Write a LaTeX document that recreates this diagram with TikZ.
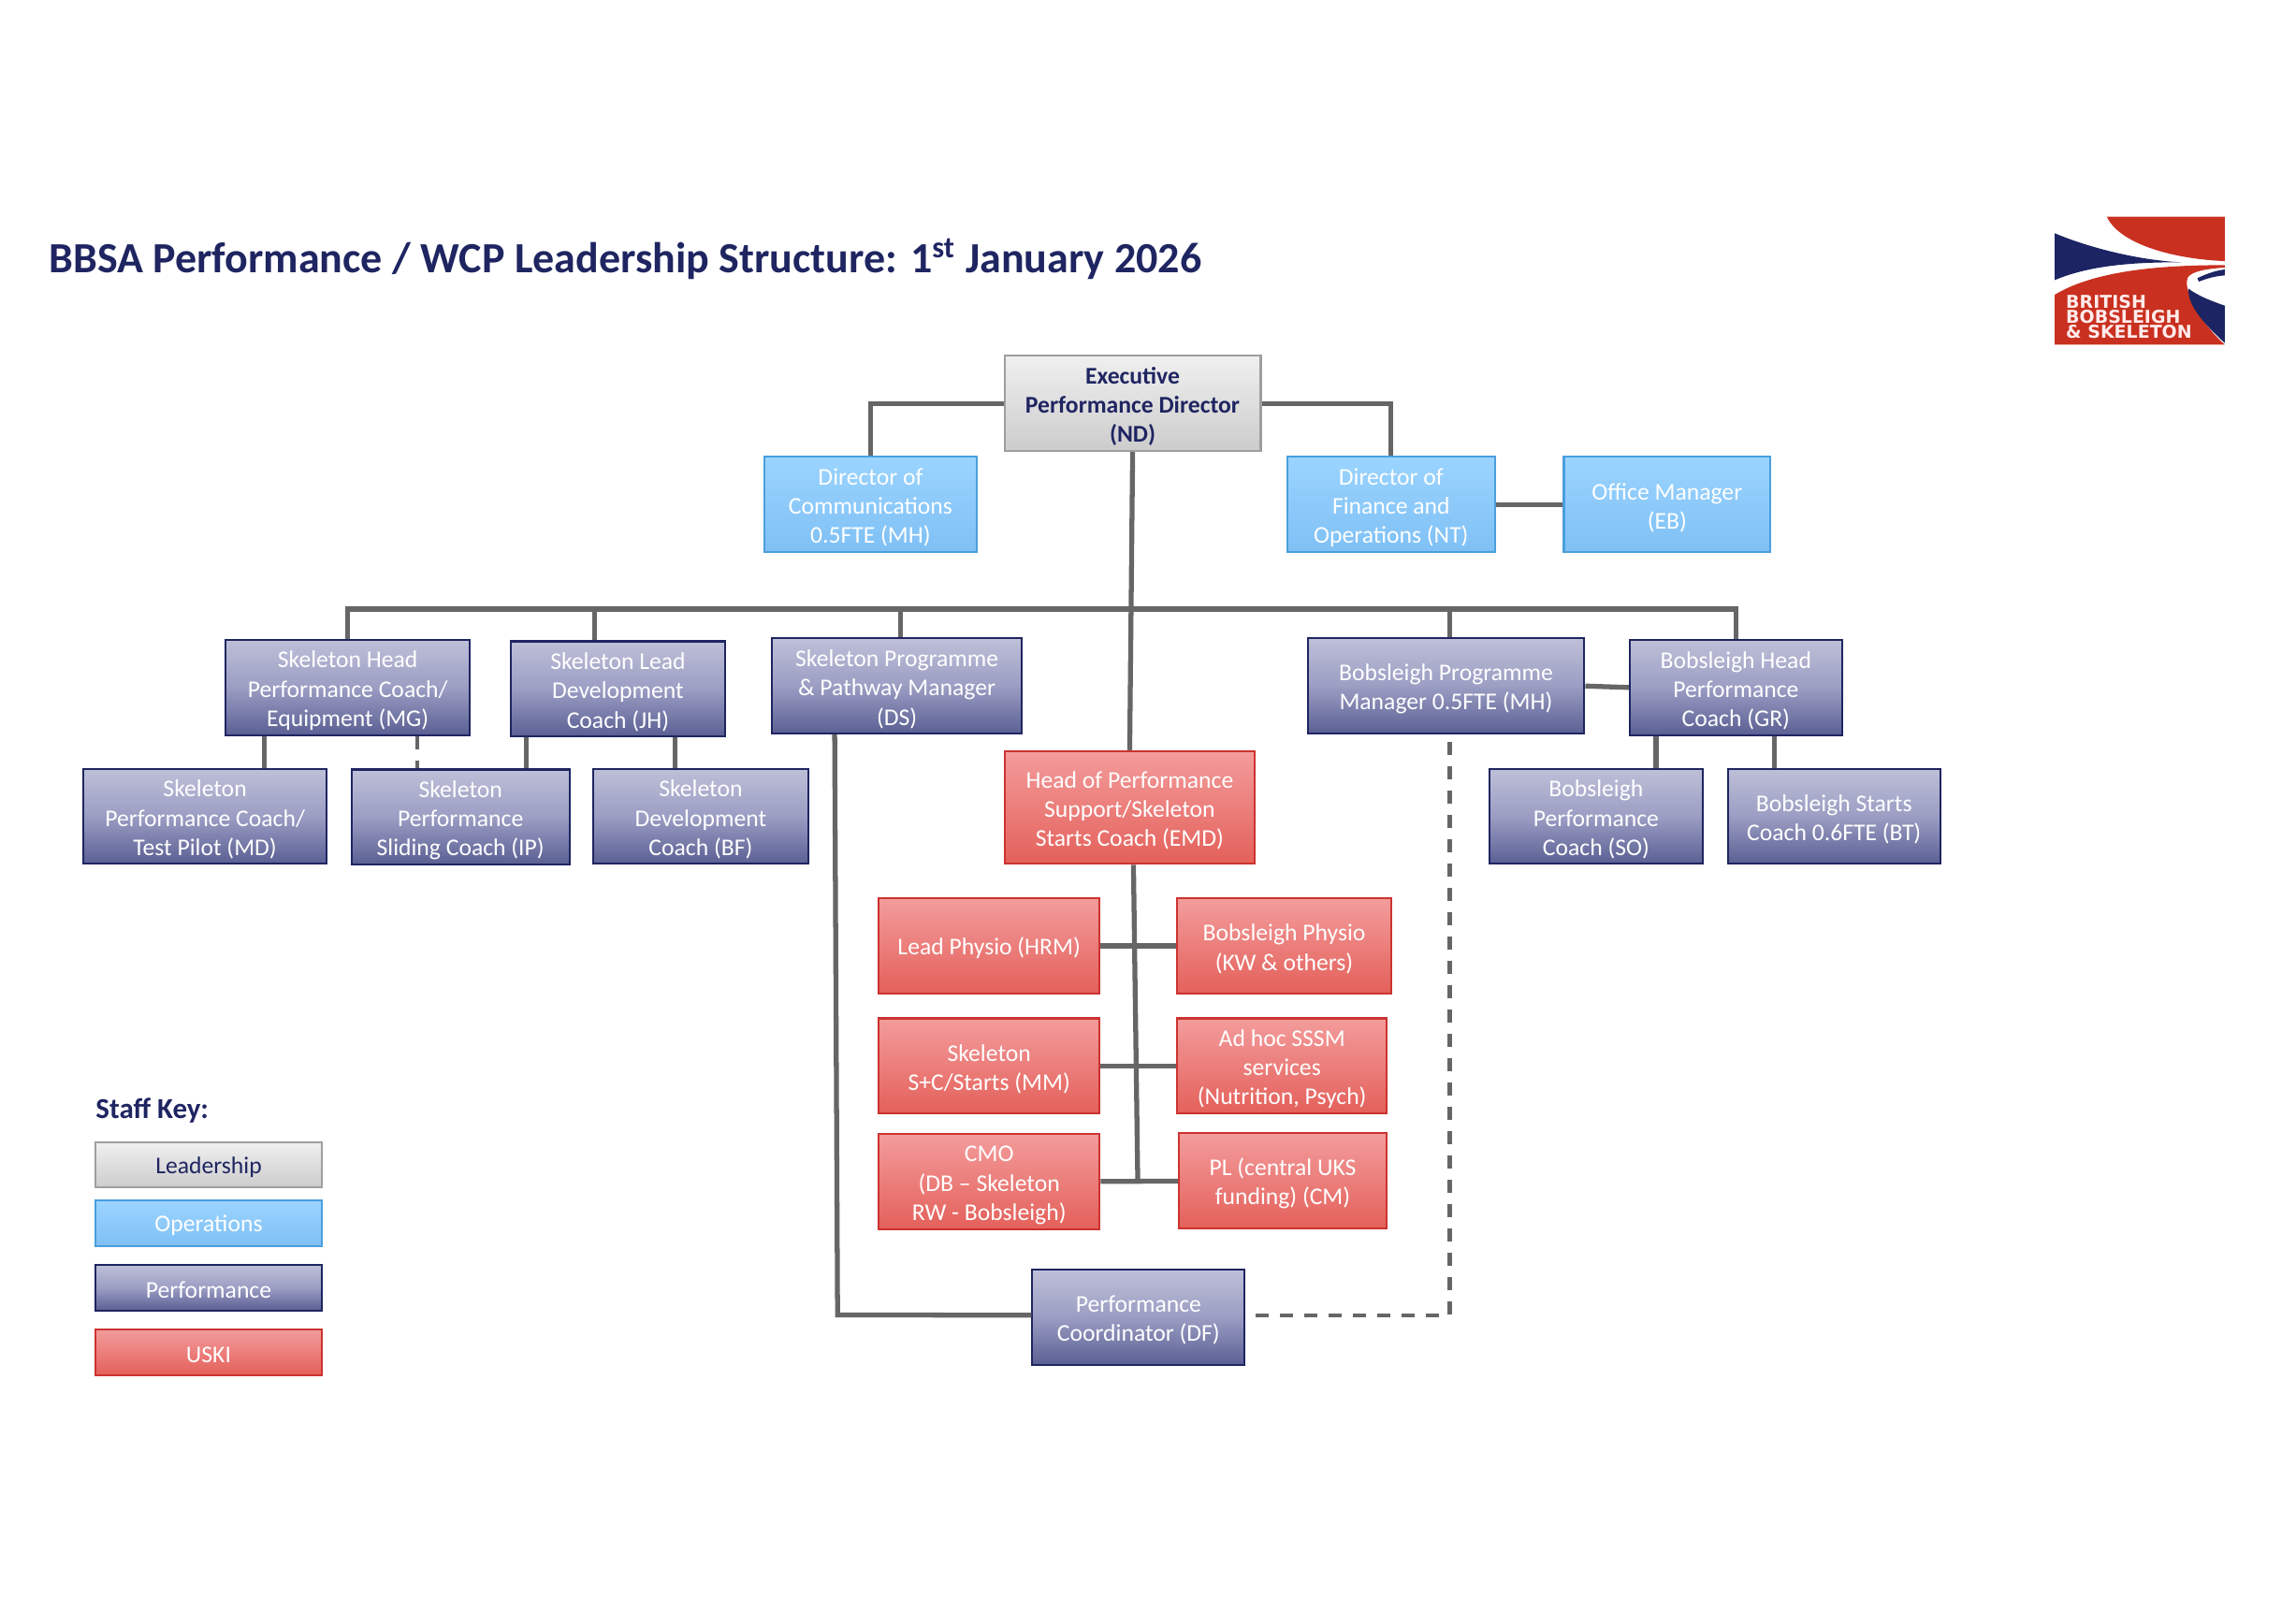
\documentclass[tikz,border=0pt]{standalone}
\usepackage{fontspec}
\setmainfont{Carlito}
\newfontfamily\logofont{DejaVu Sans}
\usetikzlibrary{positioning}

\definecolor{bbnavy}{HTML}{1F2561}
\definecolor{bbline}{HTML}{666666}
\definecolor{bbred}{HTML}{C9301F}
\definecolor{logonavy}{HTML}{1C2463}
\definecolor{opertop}{RGB}{155,212,255}
\definecolor{operbot}{RGB}{127,192,245}
\definecolor{operline}{RGB}{74,159,221}
\definecolor{perftop}{RGB}{190,192,216}
\definecolor{perfmid}{RGB}{155,157,195}
\definecolor{perfbot}{RGB}{90,95,147}
\definecolor{uskitop}{RGB}{243,156,156}
\definecolor{uskibot}{RGB}{228,96,90}
\definecolor{uskiline}{RGB}{204,51,48}

\tikzset{
  wd/.style={minimum width=#1*0.1565mm},
  ltwo/.style={text height=15.9pt},
  lone/.style={text height=6.4pt},
  box/.style={rectangle,inner sep=0pt,minimum height=65*0.1565mm,line width=.6pt,align=center,
    text=white,font=\fontsize{7.3}{8.9}\selectfont,text height=24.8pt},
  lead/.style={box,draw=black!38,top color=black!6,bottom color=black!20,text=bbnavy},
  oper/.style={box,draw=operline,top color=opertop,bottom color=operbot},
  perf/.style={box,draw=bbnavy,top color=perftop,bottom color=perfbot,middle color=perfmid},
  uski/.style={box,draw=uskiline,top color=uskitop,bottom color=uskibot},
  conn/.style={draw=bbline,line width=1.5pt},
  dashconn/.style={draw=bbline,line width=1.25pt,dash pattern=on 4pt off 3.4pt},
}

\begin{document}
\begin{tikzpicture}[x=0.1565mm,y=-0.1565mm]
  \useasboundingbox (0,0) rectangle (1568,1100.3);

  % title
  \node[anchor=west,inner sep=0pt,text=bbnavy,font=\fontsize{13.1}{16}\selectfont\bfseries] (title) at (33,177)
    {BBSA Performance / WCP Leadership Structure: 1\textsuperscript{st} January 2026};

  % logo
  \begin{scope}[shift={(1341.9,127.8)},scale=.213]
    \fill[bbred] (455,95) -- (833,95) -- (833,237) .. controls (690,232) and (500,190) .. (455,95) -- cycle;
    \fill[logonavy] (288,148) .. controls (400,195) and (560,235) .. (695,241) .. controls (520,240) and (390,255) .. (288,298) -- cycle;
    \fill[bbred] (288,345) .. controls (420,265) and (640,250) .. (833,250) -- (833,258)
      .. controls (760,262) and (710,275) .. (712,300) .. controls (705,340) and (760,440) .. (833,505) -- (288,505) -- cycle;
    \fill[logonavy] (716,325) .. controls (750,350) and (790,365) .. (833,380) -- (833,500) .. controls (770,440) and (715,385) .. (716,325) -- cycle;
    \fill[logonavy] (745,292) .. controls (770,280) and (800,268) .. (833,264) -- (833,283) .. controls (800,285) and (770,295) .. (750,303) -- cycle;
    \node[anchor=west,align=left,inner sep=0pt,text=red!8,font=\logofont\fontsize{5.4}{4.5}\selectfont\bfseries] (logotext) at (322,415)
      {BRITISH\\BOBSLEIGH\\\& SKELETON};
  \end{scope}

  % top
  \node[lead,wd=175,font=\fontsize{7.3}{8.9}\selectfont\bfseries] (exec) at (773.5,275.5) {Executive\\Performance Director\\(ND)};
  \node[oper,wd=145] (dcomm) at (594.5,344.5) {Director of\\Communications\\0.5FTE (MH)};
  \node[oper,wd=142] (dfin) at (950,344.5) {Director of\\Finance and\\Operations (NT)};
  \node[oper,wd=141,ltwo] (office) at (1138.5,344.5) {Office Manager\\(EB)};

  % performance
  \node[perf,wd=167] (mg) at (237.5,469.5) {Skeleton Head\\Performance Coach/\\Equipment (MG)};
  \node[perf,wd=146] (jh) at (422,470.5) {Skeleton Lead\\Development\\Coach (JH)};
  \node[perf,wd=171] (ds) at (612.5,468.5) {Skeleton Programme\\\& Pathway Manager\\(DS)};
  \node[perf,wd=189,ltwo] (bob) at (987.5,468.5) {Bobsleigh Programme\\Manager 0.5FTE (MH)};
  \node[perf,wd=145] (gr) at (1185.5,469.5) {Bobsleigh Head\\Performance\\Coach (GR)};
  \node[perf,wd=166] (md) at (140,557.5) {Skeleton\\Performance Coach/\\Test Pilot (MD)};
  \node[perf,wd=149] (ip) at (314.5,558) {Skeleton\\Performance\\Sliding Coach (IP)};
  \node[perf,wd=147] (bf) at (478.5,557.5) {Skeleton\\Development\\Coach (BF)};
  \node[perf,wd=146] (so) at (1090,557.5) {Bobsleigh\\Performance\\Coach (SO)};
  \node[perf,wd=145,ltwo] (bt) at (1252.5,557.5) {Bobsleigh Starts\\Coach 0.6FTE (BT)};
  \node[perf,wd=145,ltwo] (df) at (777.5,899.5) {Performance\\Coordinator (DF)};

  % uski
  \node[uski,wd=171,minimum height=77*0.1565mm] (emd) at (771.5,551.5) {Head of Performance\\Support/Skeleton\\Starts Coach (EMD)};
  \node[uski,wd=151,lone] (hrm) at (675.5,646) {Lead Physio (HRM)};
  \node[uski,wd=146,ltwo] (kw) at (877,646) {Bobsleigh Physio\\(KW \& others)};
  \node[uski,wd=151,ltwo] (mm) at (675.5,728) {Skeleton\\S+C/Starts (MM)};
  \node[uski,wd=143] (sssm) at (875.5,728) {Ad hoc SSSM\\services\\(Nutrition, Psych)};
  \node[uski,wd=151] (cmo) at (675.5,807) {CMO\\(DB -- Skeleton\\RW - Bobsleigh)};
  \node[uski,wd=142,ltwo] (pl) at (876,806.5) {PL (central UKS\\funding) (CM)};

  % key
  \node[anchor=west,inner sep=0pt,text=bbnavy,font=\fontsize{8.8}{11}\selectfont\bfseries] (keytitle) at (65,758.5) {Staff Key:};
  \node[lead,lone,wd=155,minimum height=31*0.1565mm] (keylead) at (142.5,795.5) {Leadership};
  \node[oper,lone,wd=155,minimum height=31*0.1565mm] (keyoper) at (142.5,835.5) {Operations};
  \node[perf,lone,wd=155,minimum height=31*0.1565mm] (keyperf) at (142.5,879.5) {Performance};
  \node[uski,lone,wd=155,minimum height=31*0.1565mm] (keyuski) at (142.5,923.5) {USKI};

  \coordinate (bus) at (773,416);
  \coordinate (spinebot) at (777,807);
  \coordinate (dscorner) at (572,898);

  \draw[conn] (exec.west) -| (dcomm.north);
  \draw[conn] (exec.east) -| (dfin.north);
  \draw[conn] (exec.south) -- (emd.north);
  \draw[conn] (dfin.east) -- (office.west);
  \draw[conn] (mg.north) |- (bus) -| (gr.north);
  \foreach \to/\dx in {jh/-.25,ds/.04,bob/.04}
    \draw[conn] ([xshift=\dx cm]\to.north) |- (bus);
  \foreach \from/\to/\dx in {mg/md/.634,jh/ip/.704,jh/bf/-.274,gr/so/.642,gr/bt/-.634}{
    \coordinate (tee) at ([xshift=\dx cm]\to.north);
    \draw[conn] (tee) -- (tee |- \from.south);
  }
  \coordinate (teeip) at ([xshift=-.462cm]ip.north);
  \draw[dashconn] (teeip |- mg.south) -- (teeip);
  \draw[conn] (bob.east) -- (gr.west);
  \draw[conn] ([xshift=-.665cm]ds.south) -- (dscorner) -- ([yshift=.02cm]df.west);
  \draw[dashconn] ([xshift=.11cm,yshift=.02cm]df.east) -| ([xshift=.04cm]bob.south);
  \draw[conn] ([xshift=.04cm]emd.south) -- (spinebot);
  \foreach \from/\to in {hrm/kw,mm/sssm,cmo/pl}
    \draw[conn] (\from) -- (\to);
\end{tikzpicture}
\end{document}
